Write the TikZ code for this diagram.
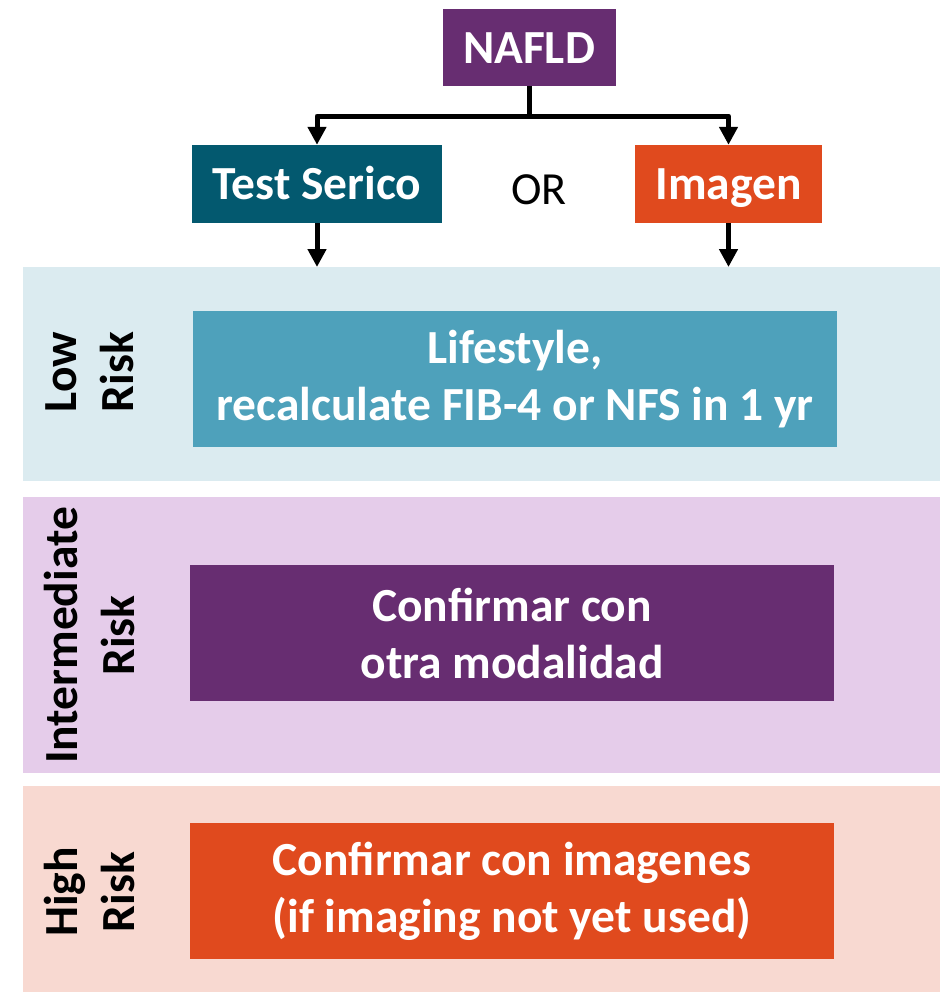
\documentclass[tikz,border=0pt]{standalone}
\usepackage{fontspec}
\setmainfont{Carlito}
\usetikzlibrary{arrows.meta}
\definecolor{cPurple}{HTML}{672D71}
\definecolor{cTeal}{HTML}{03596F}
\definecolor{cOrange}{HTML}{E04A1E}
\definecolor{cLowBand}{HTML}{DBEBF0}
\definecolor{cLowBox}{HTML}{4EA1BB}
\definecolor{cIntBand}{HTML}{E5CCEA}
\definecolor{cHighBand}{HTML}{F8D9D1}
\tikzset{
  topbox/.style={fill=#1, text=white, inner sep=0pt, text height=31pt, text depth=0pt, font=\fontsize{47.5}{57}\selectfont\bfseries},
  band/.style={fill=#1, inner sep=0pt, anchor=north west},
  mainbox/.style={fill=#1, text=white, inner sep=0pt, align=center, minimum width=644pt, minimum height=136pt, font=\fontsize{47.5}{57}\selectfont\bfseries},
  risklab/.style={rotate=90, inner sep=0pt, align=center, font=\fontsize{47.5}{57}\selectfont\bfseries},
  conn/.style={line width=5pt, line join=round, -{Triangle[width=18pt,length=18pt]}},
}
\begin{document}
\begin{tikzpicture}[x=1pt,y=-1pt]
\useasboundingbox (0,0) rectangle (940,993);
% bands
\node[band=cLowBand, minimum width=917pt, minimum height=214pt] (lowband) at (23,267) {};
\node[band=cIntBand, minimum width=917pt, minimum height=276pt] (intband) at (23,497) {};
\node[band=cHighBand, minimum width=917pt, minimum height=206pt] (highband) at (23,786) {};
% top boxes
\node[topbox=cPurple, minimum width=173pt, minimum height=77pt] (nafld) at (529,47.5) {NAFLD};
\node[topbox=cTeal, minimum width=250pt, minimum height=78pt] (ts) at (317,184) {Test Serico};
\node[topbox=cOrange, minimum width=187pt, minimum height=78pt] (im) at (728.5,184) {Imagen};
\node[inner sep=0pt, font=\fontsize{46}{57}\selectfont] (or) at (539,190) {OR};
% main boxes
\node[mainbox=cLowBox] (lowbox) at (515,379) {Lifestyle,\\recalculate FIB-4 or NFS in 1 yr};
\node[mainbox=cPurple] (intbox) at (512,633) {Confirmar con\\otra modalidad};
\node[mainbox=cOrange] (highbox) at (512,891) {Confirmar con imagenes\\(if imaging not yet used)};
% labels
\node[risklab] (lowlab) at (90,372) {Low\\Risk};
\node[risklab] (intlab) at (90,635.5) {Intermediate\\Risk};
\node[risklab] (highlab) at (90,892) {High\\Risk};
% connectors
\coordinate (split) at (529,116);
\draw[conn] (nafld.south) -- (split) -| (ts.north);
\draw[conn] (split) -| (im.north);
\draw[conn] (ts.south) -- (ts.south |- lowband.north);
\draw[conn] (im.south) -- (im.south |- lowband.north);
\end{tikzpicture}
\end{document}
